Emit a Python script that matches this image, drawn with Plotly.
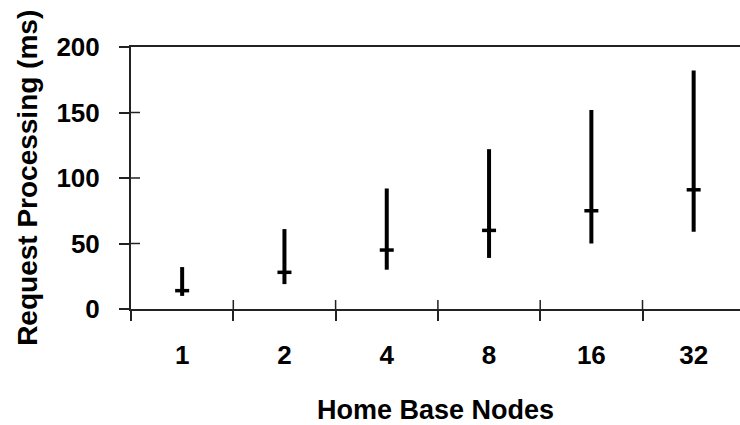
import plotly.graph_objects as go

categories = ["1", "2", "4", "8", "16", "32"]
high_vals = [32, 61, 92, 122, 152, 182]
low_vals = [10, 19, 30, 39, 50, 59]
mid_vals = [14, 28, 45, 60, 75, 91]

y_ticks = [0, 50, 100, 150, 200]
x_title = "Home Base Nodes"
y_title = "Request Processing (ms)"

FONT = "Arial, Liberation Sans, sans-serif"
INK = "#000000"
AX = "#222222"

err_plus = [h - m for h, m in zip(high_vals, mid_vals)]
err_minus = [m - l for m, l in zip(mid_vals, low_vals)]

fig = go.Figure()
fig.add_trace(go.Scatter(
    x=categories, y=mid_vals, mode="markers",
    marker=dict(symbol="line-ew", size=10, color=INK,
                line=dict(color=INK, width=3.5)),
    error_y=dict(type="data", symmetric=False, array=err_plus,
                 arrayminus=err_minus, thickness=4, width=0, color=INK),
    showlegend=False, hoverinfo="skip",
))

xr = [-0.5, 5.453]
yr = [0, 200]

# inner half of the "cross" tick marks (outer half comes from the axes)
x_bounds = [i - 0.5 for i in range(len(categories))]
shapes = []
for b in x_bounds[1:]:
    shapes.append(dict(type="line", xref="x", x0=b, x1=b,
                       yref="paper", ysizemode="pixel", yanchor=0,
                       y0=0, y1=9, layer="above",
                       line=dict(color=AX, width=1.5)))
for v in y_ticks[1:-1]:
    shapes.append(dict(type="line", yref="y", y0=v, y1=v,
                       xref="paper", xsizemode="pixel", xanchor=0,
                       x0=0, x1=9, layer="above",
                       line=dict(color=AX, width=1.5)))

fig.update_layout(
    width=740, height=425,
    margin=dict(l=131, r=0, t=47, b=116),
    paper_bgcolor="white", plot_bgcolor="white",
    font=dict(family=FONT, size=26, color=INK, weight="bold"),
    showlegend=False,
    shapes=shapes,
    xaxis=dict(
        type="category", categoryorder="array", categoryarray=categories,
        range=xr, tickson="boundaries",
        ticks="outside", ticklen=10, tickwidth=1.5, tickcolor=AX,
        showline=True, linecolor=AX, linewidth=2, mirror=True,
        showgrid=False, zeroline=False,
        tickfont=dict(family=FONT, size=26, weight="bold"),
        ticklabelstandoff=22,
    ),
    yaxis=dict(
        range=yr, tickmode="array", tickvals=y_ticks,
        ticks="outside", ticklen=10, tickwidth=1.5, tickcolor=AX,
        showline=True, linecolor=AX, linewidth=2,
        showgrid=False, zeroline=False,
        tickfont=dict(family=FONT, size=26, weight="bold"),
        ticklabelstandoff=14,
    ),
    annotations=[
        dict(text=x_title, xref="paper", yref="paper", x=0.5, y=-0.385,
             xanchor="center", yanchor="middle", showarrow=False,
             font=dict(family=FONT, size=27, weight="bold")),
        dict(text=y_title, xref="paper", yref="paper", x=-0.171, y=0.5,
             xanchor="center", yanchor="middle", textangle=-90,
             showarrow=False,
             font=dict(family=FONT, size=28, weight="bold")),
    ],
)

fig.write_html("out.html")
